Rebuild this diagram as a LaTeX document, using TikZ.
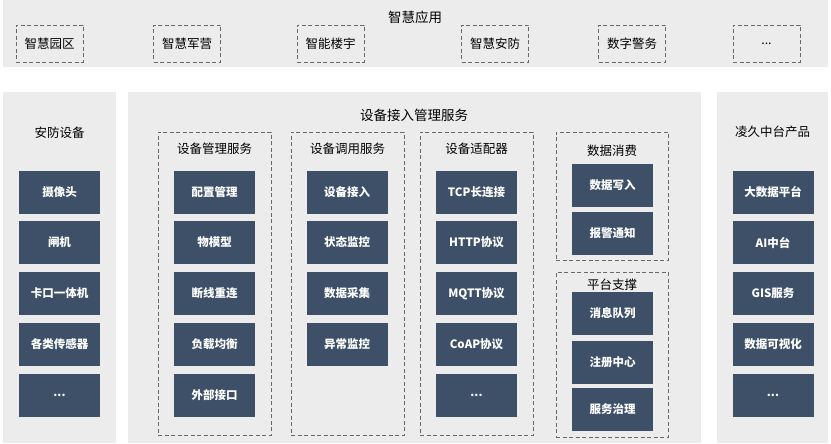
\documentclass[tikz,border=0pt]{standalone}
\usepackage{fontspec}
\setmainfont{Noto Sans CJK SC}
\usepackage{xcolor}
\definecolor{panelgray}{RGB}{236,236,236}
\definecolor{slateblue}{RGB}{61,80,104}
\definecolor{dashgray}{RGB}{105,105,105}

\begin{document}
\begin{tikzpicture}[x=1pt, y=-1pt,
    panel/.style={fill=panelgray, draw=none, inner sep=0pt},
    group/.style={draw=dashgray, dash pattern=on 4pt off 2.5pt, line width=0.7pt, inner sep=0pt},
    item/.style={fill=slateblue, text=white, font=\bfseries\fontsize{11.5}{13}\selectfont,
                 minimum width=81pt, minimum height=43pt, inner sep=0pt},
    apptitle/.style={font=\fontsize{13.5}{15}\selectfont, text=black},
    grouptitle/.style={font=\fontsize{12.5}{14}\selectfont, text=black},
    app/.style={group, font=\fontsize{12.5}{14}\selectfont, minimum width=67pt, minimum height=37pt}
]
\useasboundingbox (0,0) rectangle (831,444);
% top band
\node[panel, minimum width=825pt, minimum height=67pt] (top) at (415.5,33.5) {};
\node[apptitle] (toptitle) at (415,17) {智慧应用};
\node[app] (park) at (49.5,43.5) {智慧园区};
\node[app] (camp) at (187,43.5) {智慧军营};
\node[app] (building) at (330.5,43.5) {智能楼宇};
\node[app] (security) at (495,43.5) {智慧安防};
\node[app] (police) at (632,43.5) {数字警务};
\node[app] (moreapp) at (766.5,43.5) {...};
% panels
\node[panel, minimum width=113pt, minimum height=351pt] (left) at (59.5,267.5) {};
\node[panel, minimum width=573pt, minimum height=351pt] (mid) at (414.5,267.5) {};
\node[panel, minimum width=111pt, minimum height=351pt] (right) at (772.5,267.5) {};
\node[grouptitle] (lefttitle) at (59.5,133) {安防设备};
\node[apptitle] (midtitle) at (414,115) {设备接入管理服务};
\node[grouptitle] (righttitle) at (772.5,132) {凌久中台产品};
% dashed groups
\node[group, minimum width=113pt, minimum height=303pt] (mgmt) at (214.5,283.5) {};
\node[group, minimum width=113pt, minimum height=303pt] (call) at (347.5,283.5) {};
\node[group, minimum width=113pt, minimum height=303pt] (adapter) at (476.5,283.5) {};
\node[group, minimum width=112pt, minimum height=128pt] (consume) at (612,196) {};
\node[group, minimum width=112pt, minimum height=165pt] (support) at (612,354.5) {};
\node[grouptitle] (mgmttitle) at (214.5,149) {设备管理服务};
\node[grouptitle] (calltitle) at (347.5,149) {设备调用服务};
\node[grouptitle] (adaptertitle) at (476.5,149) {设备适配器};
\node[grouptitle] (consumetitle) at (612,151) {数据消费};
\node[grouptitle] (supporttitle) at (612,285) {平台支撑};
% security devices
\node[item] (camera) at (59.5,192) {摄像头};
\node[item] (gate) at (59.5,242.5) {闸机};
\node[item] (checkpoint) at (59.5,293.5) {卡口一体机};
\node[item] (sensor) at (59.5,344.5) {各类传感器};
\node[item] (moredev) at (59.5,395.5) {...};
% device management
\node[item] (config) at (214.5,192) {配置管理};
\node[item] (model) at (214.5,242.5) {物模型};
\node[item] (reconnect) at (214.5,293.5) {断线重连};
\node[item] (balance) at (214.5,344.5) {负载均衡};
\node[item] (extif) at (214.5,395.5) {外部接口};
% device call
\node[item] (access) at (347,192) {设备接入};
\node[item] (status) at (347,242.5) {状态监控};
\node[item] (collect) at (347,293.5) {数据采集};
\node[item] (abnormal) at (347,344.5) {异常监控};
% adapters
\node[item] (tcp) at (476.5,192) {TCP长连接};
\node[item] (http) at (476.5,242.5) {HTTP协议};
\node[item] (mqtt) at (476.5,293.5) {MQTT协议};
\node[item] (coap) at (476.5,344.5) {CoAP协议};
\node[item] (moreproto) at (476.5,395.5) {...};
% data consumption
\node[item] (write) at (612.5,185.5) {数据写入};
\node[item] (alarm) at (612.5,233) {报警通知};
% platform support
\node[item] (queue) at (612.5,313.5) {消息队列};
\node[item] (registry) at (612.5,362) {注册中心};
\node[item] (govern) at (612.5,409.5) {服务治理};
% middle platform products
\node[item] (bigdata) at (773,192) {大数据平台};
\node[item] (ai) at (773,242.5) {AI中台};
\node[item] (gis) at (773,293.5) {GIS服务};
\node[item] (visual) at (773,344.5) {数据可视化};
\node[item] (moreprod) at (773,395.5) {...};
\end{tikzpicture}
\end{document}
